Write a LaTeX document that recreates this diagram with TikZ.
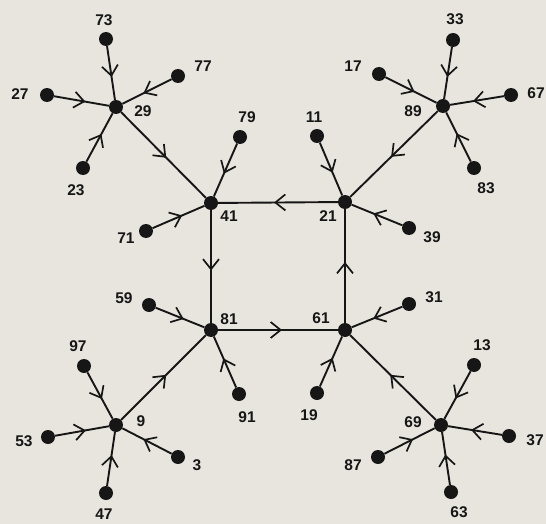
\documentclass[tikz,border=0pt]{standalone}
\usepackage{fontspec}
\setmainfont{Liberation Sans}
\usetikzlibrary{arrows.meta,decorations.markings}
\definecolor{bg}{HTML}{E8E5DE}
\definecolor{ink}{HTML}{161616}
\tikzset{
  dot/.style={circle,fill=ink,inner sep=0pt,minimum size=14pt},
  lab/.style={font=\fontsize{15.5}{16}\selectfont\bfseries,text=ink,inner sep=0pt},
  flow/.style={draw=ink,line width=1.9pt,postaction={decorate},
    decoration={markings,mark=at position 0.5 with {\arrow[xshift=4pt]{Straight Barb[length=10pt,width=16pt,line width=1.7pt]}}}}
}
\begin{document}
\begin{tikzpicture}[x=1pt,y=-1pt]
\fill[bg] (0,0) rectangle (546,524);
\useasboundingbox (0,0) rectangle (546,524);
% hubs
\node[dot] (n29) at (116,107) {};
\node[dot] (n41) at (211,203) {};
\node[dot] (n21) at (345,202) {};
\node[dot] (n89) at (443,106) {};
\node[dot] (n81) at (211,330) {};
\node[dot] (n61) at (345,330) {};
\node[dot] (n9) at (116,425) {};
\node[dot] (n69) at (441,425) {};
% leaves
\node[dot] (n73) at (106,39) {};
\node[dot] (n77) at (178,76) {};
\node[dot] (n27) at (47,95) {};
\node[dot] (n23) at (83,168) {};
\node[dot] (n79) at (240,137) {};
\node[dot] (n71) at (146,231) {};
\node[dot] (n33) at (453,40) {};
\node[dot] (n17) at (379,74) {};
\node[dot] (n67) at (511,95) {};
\node[dot] (n83) at (474,168) {};
\node[dot] (n11) at (317,136) {};
\node[dot] (n39) at (409,228) {};
\node[dot] (n59) at (149,305) {};
\node[dot] (n97) at (84,366) {};
\node[dot] (n91) at (239,394) {};
\node[dot] (n53) at (48,437) {};
\node[dot] (n3) at (178,457) {};
\node[dot] (n47) at (106,493) {};
\node[dot] (n31) at (409,304) {};
\node[dot] (n19) at (317,393) {};
\node[dot] (n13) at (474,365) {};
\node[dot] (n37) at (509,436) {};
\node[dot] (n87) at (378,457) {};
\node[dot] (n63) at (451,492) {};
% labels
\node[lab] (l73) at (104,20) {73};
\node[lab] (l77) at (203,66) {77};
\node[lab] (l27) at (20,94) {27};
\node[lab] (l29) at (143,111) {29};
\node[lab] (l23) at (76,190) {23};
\node[lab] (l79) at (247,117) {79};
\node[lab] (l41) at (229,216) {41};
\node[lab] (l71) at (126,238) {71};
\node[lab] (l33) at (455,19) {33};
\node[lab] (l17) at (353,66) {17};
\node[lab] (l67) at (536,93) {67};
\node[lab] (l89) at (413,111) {89};
\node[lab] (l83) at (486,188) {83};
\node[lab] (l11) at (314,117) {11};
\node[lab] (l21) at (328,216) {21};
\node[lab] (l39) at (432,237) {39};
\node[lab] (l59) at (124,298) {59};
\node[lab] (l81) at (229,319) {81};
\node[lab] (l97) at (78,346) {97};
\node[lab] (l91) at (247,417) {91};
\node[lab] (l9) at (141,421) {9};
\node[lab] (l53) at (24,441) {53};
\node[lab] (l3) at (197,465) {3};
\node[lab] (l47) at (104,514) {47};
\node[lab] (l61) at (321,318) {61};
\node[lab] (l31) at (434,297) {31};
\node[lab] (l19) at (309,415) {19};
\node[lab] (l13) at (482,345) {13};
\node[lab] (l69) at (413,422) {69};
\node[lab] (l37) at (535,440) {37};
\node[lab] (l87) at (353,465) {87};
\node[lab] (l63) at (459,512) {63};
% edges
\foreach \a/\b in {73/29,77/29,27/29,23/29,29/41,79/41,71/41,
  33/89,17/89,67/89,83/89,89/21,11/21,39/21,
  21/41,41/81,81/61,61/21,
  59/81,91/81,9/81,97/9,53/9,3/9,47/9,
  31/61,19/61,69/61,13/69,37/69,87/69,63/69}
  \path[flow] (n\a) -- (n\b);
\end{tikzpicture}
\end{document}
